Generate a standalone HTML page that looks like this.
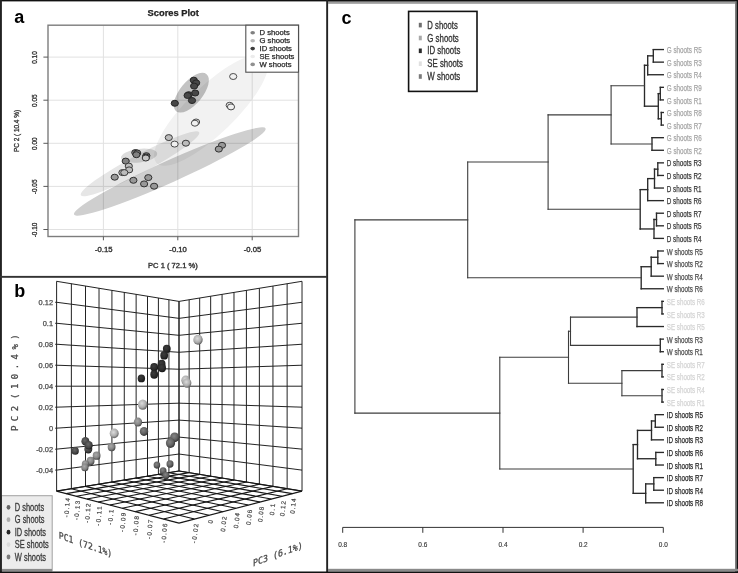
<!DOCTYPE html>
<html lang="en"><head><meta charset="utf-8"><title>Figure</title>
<style>
html,body{margin:0;padding:0;background:#fff;}
body{width:738px;height:573px;overflow:hidden;font-family:"Liberation Sans",sans-serif;}
svg{display:block;}
</style></head><body>
<svg width="738" height="573" viewBox="0 0 738 573">
<rect x="0" y="0" width="738" height="573" fill="#fff"/>
<defs><filter id="soft" x="-2%" y="-2%" width="104%" height="104%"><feGaussianBlur stdDeviation="0.3"/></filter></defs>
<g id="panelA" filter="url(#soft)">
<clipPath id="clipA"><rect x="48.0" y="25.2" width="250.5" height="211.3"/></clipPath>
<g clip-path="url(#clipA)">
<rect x="48.0" y="25.2" width="250.5" height="211.3" fill="#fff"/>
<line x1="103.4" y1="25.2" x2="103.4" y2="236.5" stroke="#e1e1e1" stroke-width="1"/>
<line x1="177.8" y1="25.2" x2="177.8" y2="236.5" stroke="#e1e1e1" stroke-width="1"/>
<line x1="252.2" y1="25.2" x2="252.2" y2="236.5" stroke="#e1e1e1" stroke-width="1"/>
<line x1="48.0" y1="57.1" x2="298.5" y2="57.1" stroke="#e1e1e1" stroke-width="1"/>
<line x1="48.0" y1="100.2" x2="298.5" y2="100.2" stroke="#e1e1e1" stroke-width="1"/>
<line x1="48.0" y1="143.3" x2="298.5" y2="143.3" stroke="#e1e1e1" stroke-width="1"/>
<line x1="48.0" y1="186.4" x2="298.5" y2="186.4" stroke="#e1e1e1" stroke-width="1"/>
<line x1="48.0" y1="229.5" x2="298.5" y2="229.5" stroke="#e1e1e1" stroke-width="1"/>
<ellipse cx="211.2" cy="110.2" rx="76" ry="23.8" transform="rotate(-44.0 211.2 110.2)" fill="#f2f2f2" style="mix-blend-mode:multiply"/>
<ellipse cx="140" cy="163.8" rx="67" ry="9.1" transform="rotate(-28.0 140 163.8)" fill="#e6e6e6" style="mix-blend-mode:multiply"/>
<ellipse cx="169.8" cy="171.5" rx="105" ry="10.9" transform="rotate(-24.2 169.8 171.5)" fill="#cfcfcf" style="mix-blend-mode:multiply"/>
<ellipse cx="139.1" cy="155.7" rx="18.2" ry="6.8" transform="rotate(-7 139.1 155.7)" fill="#dcdcdc" style="mix-blend-mode:multiply"/>
<ellipse cx="191.3" cy="92.7" rx="24" ry="11.3" transform="rotate(-50.5 191.3 92.7)" fill="#c3c3c3" style="mix-blend-mode:multiply"/>
</g>
<ellipse cx="222.0" cy="145.3" rx="3.6" ry="3.0" fill="#989898" stroke="#303030" stroke-width="1.0"/>
<ellipse cx="218.8" cy="149.1" rx="3.6" ry="3.0" fill="#989898" stroke="#303030" stroke-width="1.0"/>
<ellipse cx="133.4" cy="180.3" rx="3.6" ry="3.0" fill="#989898" stroke="#303030" stroke-width="1.0"/>
<ellipse cx="148.3" cy="177.6" rx="3.6" ry="3.0" fill="#989898" stroke="#303030" stroke-width="1.0"/>
<ellipse cx="144.1" cy="183.9" rx="3.6" ry="3.0" fill="#989898" stroke="#303030" stroke-width="1.0"/>
<ellipse cx="154.1" cy="186.2" rx="3.6" ry="3.0" fill="#989898" stroke="#303030" stroke-width="1.0"/>
<ellipse cx="114.7" cy="177.2" rx="3.6" ry="3.0" fill="#989898" stroke="#303030" stroke-width="1.0"/>
<ellipse cx="135.3" cy="152.6" rx="3.6" ry="3.0" fill="#828282" stroke="#2a2a2a" stroke-width="1.0"/>
<ellipse cx="137.2" cy="153.0" rx="3.6" ry="3.0" fill="#828282" stroke="#2a2a2a" stroke-width="1.0"/>
<ellipse cx="136.4" cy="154.7" rx="3.6" ry="3.0" fill="#828282" stroke="#2a2a2a" stroke-width="1.0"/>
<ellipse cx="146.4" cy="155.7" rx="3.6" ry="3.0" fill="#828282" stroke="#2a2a2a" stroke-width="1.0"/>
<ellipse cx="146.0" cy="157.1" rx="3.6" ry="3.0" fill="#828282" stroke="#2a2a2a" stroke-width="1.0"/>
<ellipse cx="125.7" cy="161.1" rx="3.6" ry="3.0" fill="#828282" stroke="#2a2a2a" stroke-width="1.0"/>
<ellipse cx="168.8" cy="137.6" rx="3.6" ry="3.0" fill="#bcbcbc" stroke="#3a3a3a" stroke-width="1.0"/>
<ellipse cx="185.9" cy="143.2" rx="3.6" ry="3.0" fill="#bcbcbc" stroke="#3a3a3a" stroke-width="1.0"/>
<ellipse cx="128.8" cy="166.1" rx="3.6" ry="3.0" fill="#bcbcbc" stroke="#3a3a3a" stroke-width="1.0"/>
<ellipse cx="129.1" cy="169.9" rx="3.6" ry="3.0" fill="#bcbcbc" stroke="#3a3a3a" stroke-width="1.0"/>
<ellipse cx="122.4" cy="172.6" rx="3.6" ry="3.0" fill="#bcbcbc" stroke="#3a3a3a" stroke-width="1.0"/>
<ellipse cx="124.3" cy="172.6" rx="3.6" ry="3.0" fill="#bcbcbc" stroke="#3a3a3a" stroke-width="1.0"/>
<ellipse cx="145.8" cy="158.0" rx="3.6" ry="3.0" fill="#c4c4c4" stroke="#333" stroke-width="1.0"/>
<ellipse cx="233.2" cy="76.5" rx="3.6" ry="3.0" fill="#f0f0f0" stroke="#4a4a4a" stroke-width="1.0"/>
<ellipse cx="229.7" cy="105.3" rx="3.6" ry="3.0" fill="#f0f0f0" stroke="#4a4a4a" stroke-width="1.0"/>
<ellipse cx="231.0" cy="106.9" rx="3.6" ry="3.0" fill="#f0f0f0" stroke="#4a4a4a" stroke-width="1.0"/>
<ellipse cx="196.1" cy="122.0" rx="3.6" ry="3.0" fill="#f0f0f0" stroke="#4a4a4a" stroke-width="1.0"/>
<ellipse cx="194.9" cy="123.2" rx="3.6" ry="3.0" fill="#f0f0f0" stroke="#4a4a4a" stroke-width="1.0"/>
<ellipse cx="174.6" cy="144.1" rx="3.6" ry="3.0" fill="#f0f0f0" stroke="#4a4a4a" stroke-width="1.0"/>
<ellipse cx="193.8" cy="80.2" rx="3.6" ry="3.0" fill="#464646" stroke="#262626" stroke-width="1.0"/>
<ellipse cx="196.2" cy="82.9" rx="3.6" ry="3.0" fill="#464646" stroke="#262626" stroke-width="1.0"/>
<ellipse cx="194.1" cy="86.1" rx="3.6" ry="3.0" fill="#464646" stroke="#262626" stroke-width="1.0"/>
<ellipse cx="195.2" cy="93.0" rx="3.6" ry="3.0" fill="#464646" stroke="#262626" stroke-width="1.0"/>
<ellipse cx="188.7" cy="94.7" rx="3.6" ry="3.0" fill="#464646" stroke="#262626" stroke-width="1.0"/>
<ellipse cx="187.6" cy="95.5" rx="3.6" ry="3.0" fill="#464646" stroke="#262626" stroke-width="1.0"/>
<ellipse cx="192.0" cy="100.5" rx="3.6" ry="3.0" fill="#464646" stroke="#262626" stroke-width="1.0"/>
<ellipse cx="174.8" cy="103.3" rx="3.6" ry="3.0" fill="#464646" stroke="#262626" stroke-width="1.0"/>
<rect x="48.0" y="25.2" width="250.5" height="211.3" fill="none" stroke="#7d7d7d" stroke-width="1.4"/>
<line x1="103.4" y1="236.5" x2="103.4" y2="240.3" stroke="#5a5a5a" stroke-width="1"/>
<text x="103.70" y="252.30" font-size="6.5" fill="#333" text-anchor="middle" font-weight="normal" font-family='"Liberation Sans", sans-serif' textLength="17.48" lengthAdjust="spacingAndGlyphs" stroke="#333" stroke-width="0.33" >-0.15</text>
<line x1="177.8" y1="236.5" x2="177.8" y2="240.3" stroke="#5a5a5a" stroke-width="1"/>
<text x="178.10" y="252.30" font-size="6.5" fill="#333" text-anchor="middle" font-weight="normal" font-family='"Liberation Sans", sans-serif' textLength="17.48" lengthAdjust="spacingAndGlyphs" stroke="#333" stroke-width="0.33" >-0.10</text>
<line x1="252.2" y1="236.5" x2="252.2" y2="240.3" stroke="#5a5a5a" stroke-width="1"/>
<text x="252.50" y="252.30" font-size="6.5" fill="#333" text-anchor="middle" font-weight="normal" font-family='"Liberation Sans", sans-serif' textLength="17.48" lengthAdjust="spacingAndGlyphs" stroke="#333" stroke-width="0.33" >-0.05</text>
<line x1="43.4" y1="57.1" x2="48.0" y2="57.1" stroke="#5a5a5a" stroke-width="1"/>
<text x="37.40" y="57.50" font-size="7.8" fill="#333" text-anchor="middle" font-weight="normal" font-family='"Liberation Sans", sans-serif' textLength="12.60" lengthAdjust="spacingAndGlyphs" transform="rotate(-90 37.40 57.50)" stroke="#333" stroke-width="0.33" >0.10</text>
<line x1="43.4" y1="100.2" x2="48.0" y2="100.2" stroke="#5a5a5a" stroke-width="1"/>
<text x="37.40" y="100.60" font-size="7.8" fill="#333" text-anchor="middle" font-weight="normal" font-family='"Liberation Sans", sans-serif' textLength="12.60" lengthAdjust="spacingAndGlyphs" transform="rotate(-90 37.40 100.60)" stroke="#333" stroke-width="0.33" >0.05</text>
<line x1="43.4" y1="143.3" x2="48.0" y2="143.3" stroke="#5a5a5a" stroke-width="1"/>
<text x="37.40" y="143.70" font-size="7.8" fill="#333" text-anchor="middle" font-weight="normal" font-family='"Liberation Sans", sans-serif' textLength="12.60" lengthAdjust="spacingAndGlyphs" transform="rotate(-90 37.40 143.70)" stroke="#333" stroke-width="0.33" >0.00</text>
<line x1="43.4" y1="186.4" x2="48.0" y2="186.4" stroke="#5a5a5a" stroke-width="1"/>
<text x="37.40" y="186.80" font-size="7.8" fill="#333" text-anchor="middle" font-weight="normal" font-family='"Liberation Sans", sans-serif' textLength="14.75" lengthAdjust="spacingAndGlyphs" transform="rotate(-90 37.40 186.80)" stroke="#333" stroke-width="0.33" >-0.05</text>
<line x1="43.4" y1="229.5" x2="48.0" y2="229.5" stroke="#5a5a5a" stroke-width="1"/>
<text x="37.40" y="229.90" font-size="7.8" fill="#333" text-anchor="middle" font-weight="normal" font-family='"Liberation Sans", sans-serif' textLength="14.75" lengthAdjust="spacingAndGlyphs" transform="rotate(-90 37.40 229.90)" stroke="#333" stroke-width="0.33" >-0.10</text>
<text x="173.20" y="16.10" font-size="8.6" fill="#222" text-anchor="middle" font-weight="bold" font-family='"Liberation Sans", sans-serif' textLength="51.40" lengthAdjust="spacingAndGlyphs" stroke="#222" stroke-width="0.25" >Scores Plot</text>
<text x="172.90" y="267.60" font-size="6.5" fill="#333" text-anchor="middle" font-weight="normal" font-family='"Liberation Sans", sans-serif' textLength="49.80" lengthAdjust="spacingAndGlyphs" stroke="#333" stroke-width="0.33" >PC 1 ( 72.1 %)</text>
<text x="19.00" y="131.00" font-size="7.8" fill="#333" text-anchor="middle" font-weight="normal" font-family='"Liberation Sans", sans-serif' textLength="42.20" lengthAdjust="spacingAndGlyphs" transform="rotate(-90 19.00 131.00)" stroke="#333" stroke-width="0.33" >PC 2 ( 10.4 %)</text>
<rect x="245.8" y="25.2" width="52.69999999999999" height="47.0" fill="#fff" stroke="#505050" stroke-width="1.1"/>
<ellipse cx="252.7" cy="32.8" rx="2.3" ry="1.8" fill="#808080"/>
<text x="259.50" y="35.20" font-size="6.5" fill="#2e2e2e" text-anchor="start" font-weight="normal" font-family='"Liberation Sans", sans-serif' textLength="30.27" lengthAdjust="spacingAndGlyphs" stroke="#2e2e2e" stroke-width="0.25" >D shoots</text>
<ellipse cx="252.7" cy="40.7" rx="2.3" ry="1.8" fill="#b8b8b8"/>
<text x="259.50" y="43.10" font-size="6.5" fill="#2e2e2e" text-anchor="start" font-weight="normal" font-family='"Liberation Sans", sans-serif' textLength="30.69" lengthAdjust="spacingAndGlyphs" stroke="#2e2e2e" stroke-width="0.25" >G shoots</text>
<ellipse cx="252.7" cy="48.6" rx="2.3" ry="1.8" fill="#3c3c3c"/>
<text x="259.50" y="51.00" font-size="6.5" fill="#2e2e2e" text-anchor="start" font-weight="normal" font-family='"Liberation Sans", sans-serif' textLength="32.40" lengthAdjust="spacingAndGlyphs" stroke="#2e2e2e" stroke-width="0.25" >ID shoots</text>
<ellipse cx="252.7" cy="56.5" rx="2.3" ry="1.8" fill="#ececec"/>
<text x="259.50" y="58.90" font-size="6.5" fill="#2e2e2e" text-anchor="start" font-weight="normal" font-family='"Liberation Sans", sans-serif' textLength="34.96" lengthAdjust="spacingAndGlyphs" stroke="#2e2e2e" stroke-width="0.25" >SE shoots</text>
<ellipse cx="252.7" cy="64.4" rx="2.3" ry="1.8" fill="#909090"/>
<text x="259.50" y="66.80" font-size="6.5" fill="#2e2e2e" text-anchor="start" font-weight="normal" font-family='"Liberation Sans", sans-serif' textLength="31.97" lengthAdjust="spacingAndGlyphs" stroke="#2e2e2e" stroke-width="0.25" >W shoots</text>
</g>
<g id="panelB" filter="url(#soft)">
<line x1="56.60" y1="281.30" x2="56.60" y2="491.10" stroke="#1e1e1e" stroke-width="0.98"/>
<line x1="56.60" y1="281.30" x2="179.00" y2="301.40" stroke="#1e1e1e" stroke-width="0.98"/>
<line x1="71.39" y1="283.73" x2="71.39" y2="488.67" stroke="#1e1e1e" stroke-width="0.98"/>
<line x1="56.60" y1="302.28" x2="179.00" y2="318.36" stroke="#1e1e1e" stroke-width="0.98"/>
<line x1="85.51" y1="286.05" x2="85.51" y2="486.35" stroke="#1e1e1e" stroke-width="0.98"/>
<line x1="56.60" y1="323.26" x2="179.00" y2="335.32" stroke="#1e1e1e" stroke-width="0.98"/>
<line x1="99.01" y1="288.26" x2="99.01" y2="484.14" stroke="#1e1e1e" stroke-width="0.98"/>
<line x1="56.60" y1="344.24" x2="179.00" y2="352.28" stroke="#1e1e1e" stroke-width="0.98"/>
<line x1="111.92" y1="290.38" x2="111.92" y2="482.02" stroke="#1e1e1e" stroke-width="0.98"/>
<line x1="56.60" y1="365.22" x2="179.00" y2="369.24" stroke="#1e1e1e" stroke-width="0.98"/>
<line x1="124.28" y1="292.41" x2="124.28" y2="479.99" stroke="#1e1e1e" stroke-width="0.98"/>
<line x1="56.60" y1="386.20" x2="179.00" y2="386.20" stroke="#1e1e1e" stroke-width="0.98"/>
<line x1="136.14" y1="294.36" x2="136.14" y2="478.04" stroke="#1e1e1e" stroke-width="0.98"/>
<line x1="56.60" y1="407.18" x2="179.00" y2="403.16" stroke="#1e1e1e" stroke-width="0.98"/>
<line x1="147.51" y1="296.23" x2="147.51" y2="476.17" stroke="#1e1e1e" stroke-width="0.98"/>
<line x1="56.60" y1="428.16" x2="179.00" y2="420.12" stroke="#1e1e1e" stroke-width="0.98"/>
<line x1="158.42" y1="298.02" x2="158.42" y2="474.38" stroke="#1e1e1e" stroke-width="0.98"/>
<line x1="56.60" y1="449.14" x2="179.00" y2="437.08" stroke="#1e1e1e" stroke-width="0.98"/>
<line x1="168.91" y1="299.74" x2="168.91" y2="472.66" stroke="#1e1e1e" stroke-width="0.98"/>
<line x1="56.60" y1="470.12" x2="179.00" y2="454.04" stroke="#1e1e1e" stroke-width="0.98"/>
<line x1="179.00" y1="301.40" x2="179.00" y2="471.00" stroke="#1e1e1e" stroke-width="0.98"/>
<line x1="56.60" y1="491.10" x2="179.00" y2="471.00" stroke="#1e1e1e" stroke-width="0.98"/>
<line x1="179.00" y1="301.40" x2="179.00" y2="471.00" stroke="#1e1e1e" stroke-width="0.98"/>
<line x1="179.00" y1="301.40" x2="302.00" y2="281.30" stroke="#1e1e1e" stroke-width="0.98"/>
<line x1="189.14" y1="299.74" x2="189.14" y2="472.66" stroke="#1e1e1e" stroke-width="0.98"/>
<line x1="179.00" y1="318.36" x2="302.00" y2="302.28" stroke="#1e1e1e" stroke-width="0.98"/>
<line x1="199.68" y1="298.02" x2="199.68" y2="474.38" stroke="#1e1e1e" stroke-width="0.98"/>
<line x1="179.00" y1="335.32" x2="302.00" y2="323.26" stroke="#1e1e1e" stroke-width="0.98"/>
<line x1="210.65" y1="296.23" x2="210.65" y2="476.17" stroke="#1e1e1e" stroke-width="0.98"/>
<line x1="179.00" y1="352.28" x2="302.00" y2="344.24" stroke="#1e1e1e" stroke-width="0.98"/>
<line x1="222.07" y1="294.36" x2="222.07" y2="478.04" stroke="#1e1e1e" stroke-width="0.98"/>
<line x1="179.00" y1="369.24" x2="302.00" y2="365.22" stroke="#1e1e1e" stroke-width="0.98"/>
<line x1="233.98" y1="292.41" x2="233.98" y2="479.99" stroke="#1e1e1e" stroke-width="0.98"/>
<line x1="179.00" y1="386.20" x2="302.00" y2="386.20" stroke="#1e1e1e" stroke-width="0.98"/>
<line x1="246.41" y1="290.38" x2="246.41" y2="482.02" stroke="#1e1e1e" stroke-width="0.98"/>
<line x1="179.00" y1="403.16" x2="302.00" y2="407.18" stroke="#1e1e1e" stroke-width="0.98"/>
<line x1="259.38" y1="288.26" x2="259.38" y2="484.14" stroke="#1e1e1e" stroke-width="0.98"/>
<line x1="179.00" y1="420.12" x2="302.00" y2="428.16" stroke="#1e1e1e" stroke-width="0.98"/>
<line x1="272.95" y1="286.05" x2="272.95" y2="486.35" stroke="#1e1e1e" stroke-width="0.98"/>
<line x1="179.00" y1="437.08" x2="302.00" y2="449.14" stroke="#1e1e1e" stroke-width="0.98"/>
<line x1="287.14" y1="283.73" x2="287.14" y2="488.67" stroke="#1e1e1e" stroke-width="0.98"/>
<line x1="179.00" y1="454.04" x2="302.00" y2="470.12" stroke="#1e1e1e" stroke-width="0.98"/>
<line x1="302.00" y1="281.30" x2="302.00" y2="491.10" stroke="#1e1e1e" stroke-width="0.98"/>
<line x1="179.00" y1="471.00" x2="302.00" y2="491.10" stroke="#1e1e1e" stroke-width="0.98"/>
<line x1="179.00" y1="471.00" x2="56.60" y2="491.10" stroke="#141414" stroke-width="1.1"/>
<line x1="179.00" y1="471.00" x2="302.00" y2="491.10" stroke="#141414" stroke-width="1.1"/>
<line x1="189.18" y1="472.66" x2="66.24" y2="493.62" stroke="#141414" stroke-width="1.1"/>
<line x1="168.82" y1="472.67" x2="292.27" y2="493.63" stroke="#141414" stroke-width="1.1"/>
<line x1="199.76" y1="474.39" x2="76.35" y2="496.26" stroke="#141414" stroke-width="1.1"/>
<line x1="158.26" y1="474.41" x2="282.07" y2="496.29" stroke="#141414" stroke-width="1.1"/>
<line x1="210.76" y1="476.19" x2="86.96" y2="499.04" stroke="#141414" stroke-width="1.1"/>
<line x1="147.28" y1="476.21" x2="271.38" y2="499.07" stroke="#141414" stroke-width="1.1"/>
<line x1="222.20" y1="478.06" x2="98.11" y2="501.95" stroke="#141414" stroke-width="1.1"/>
<line x1="135.87" y1="478.08" x2="260.15" y2="501.99" stroke="#141414" stroke-width="1.1"/>
<line x1="234.12" y1="480.01" x2="109.84" y2="505.02" stroke="#141414" stroke-width="1.1"/>
<line x1="124.00" y1="480.03" x2="248.35" y2="505.06" stroke="#141414" stroke-width="1.1"/>
<line x1="246.55" y1="482.04" x2="122.19" y2="508.25" stroke="#141414" stroke-width="1.1"/>
<line x1="111.63" y1="482.06" x2="235.94" y2="508.29" stroke="#141414" stroke-width="1.1"/>
<line x1="259.51" y1="484.16" x2="135.22" y2="511.66" stroke="#141414" stroke-width="1.1"/>
<line x1="98.75" y1="484.18" x2="222.85" y2="511.69" stroke="#141414" stroke-width="1.1"/>
<line x1="273.05" y1="486.37" x2="148.99" y2="515.25" stroke="#141414" stroke-width="1.1"/>
<line x1="85.30" y1="486.39" x2="209.04" y2="515.28" stroke="#141414" stroke-width="1.1"/>
<line x1="287.20" y1="488.68" x2="163.56" y2="519.06" stroke="#141414" stroke-width="1.1"/>
<line x1="71.27" y1="488.69" x2="194.45" y2="519.08" stroke="#141414" stroke-width="1.1"/>
<line x1="302.00" y1="491.10" x2="179.00" y2="523.10" stroke="#141414" stroke-width="1.1"/>
<line x1="56.60" y1="491.10" x2="179.00" y2="523.10" stroke="#141414" stroke-width="1.1"/>
<defs>
<radialGradient id="gID" cx="0.42" cy="0.38" r="0.66"><stop offset="0" stop-color="#3c3c3c"/><stop offset="0.6" stop-color="#2a2a2a"/><stop offset="1" stop-color="#141414"/></radialGradient>
<radialGradient id="gSE" cx="0.42" cy="0.38" r="0.66"><stop offset="0" stop-color="#dcdcdc"/><stop offset="0.6" stop-color="#adadad"/><stop offset="1" stop-color="#555"/></radialGradient>
<radialGradient id="gG" cx="0.42" cy="0.38" r="0.66"><stop offset="0" stop-color="#aaa"/><stop offset="0.6" stop-color="#848484"/><stop offset="1" stop-color="#3c3c3c"/></radialGradient>
<radialGradient id="gD" cx="0.42" cy="0.38" r="0.66"><stop offset="0" stop-color="#686868"/><stop offset="0.6" stop-color="#464646"/><stop offset="1" stop-color="#1c1c1c"/></radialGradient>
<radialGradient id="gW" cx="0.42" cy="0.38" r="0.66"><stop offset="0" stop-color="#858585"/><stop offset="0.6" stop-color="#606060"/><stop offset="1" stop-color="#2a2a2a"/></radialGradient>
</defs>
<ellipse cx="144" cy="431.4" rx="4.2" ry="4.49" fill="url(#gW)"/>
<ellipse cx="174.7" cy="437.3" rx="4.6" ry="4.92" fill="url(#gW)"/>
<ellipse cx="170.5" cy="443.1" rx="4.6" ry="4.92" fill="url(#gW)"/>
<ellipse cx="170" cy="464" rx="3.5" ry="3.75" fill="url(#gW)"/>
<ellipse cx="156.9" cy="465.1" rx="3.3" ry="3.53" fill="url(#gW)"/>
<ellipse cx="163.1" cy="470.8" rx="3.4" ry="3.64" fill="url(#gW)"/>
<ellipse cx="166.1" cy="475.4" rx="3.4" ry="3.64" fill="url(#gW)"/>
<ellipse cx="138" cy="422.1" rx="4.2" ry="4.49" fill="url(#gG)"/>
<ellipse cx="111.6" cy="447" rx="3.9" ry="4.17" fill="url(#gG)"/>
<ellipse cx="96.6" cy="455.7" rx="3.9" ry="4.17" fill="url(#gG)"/>
<ellipse cx="90.6" cy="460.9" rx="3.9" ry="4.17" fill="url(#gG)"/>
<ellipse cx="85.4" cy="464" rx="3.6" ry="3.85" fill="url(#gG)"/>
<ellipse cx="84.9" cy="467.4" rx="3.6" ry="3.85" fill="url(#gG)"/>
<ellipse cx="75.2" cy="450.9" rx="3.6" ry="3.85" fill="url(#gD)"/>
<ellipse cx="85.4" cy="441.3" rx="4.0" ry="4.28" fill="url(#gD)"/>
<ellipse cx="88.3" cy="449.1" rx="4.0" ry="4.28" fill="url(#gD)"/>
<ellipse cx="88.8" cy="445.2" rx="4.0" ry="4.28" fill="url(#gD)"/>
<ellipse cx="198" cy="339.7" rx="4.7" ry="5.03" fill="url(#gSE)"/>
<ellipse cx="185.7" cy="380.3" rx="4.4" ry="4.71" fill="url(#gSE)"/>
<ellipse cx="187" cy="383.1" rx="4.4" ry="4.71" fill="url(#gSE)"/>
<ellipse cx="142.7" cy="404.6" rx="4.8" ry="5.14" fill="url(#gSE)"/>
<ellipse cx="114.2" cy="433.4" rx="4.5" ry="4.82" fill="url(#gSE)"/>
<ellipse cx="166.8" cy="348.8" rx="3.9" ry="4.17" fill="url(#gID)"/>
<ellipse cx="164.2" cy="355.4" rx="3.9" ry="4.17" fill="url(#gID)"/>
<ellipse cx="161.6" cy="364.0" rx="3.9" ry="4.17" fill="url(#gID)"/>
<ellipse cx="162.1" cy="368" rx="3.9" ry="4.17" fill="url(#gID)"/>
<ellipse cx="154.2" cy="367.2" rx="3.9" ry="4.17" fill="url(#gID)"/>
<ellipse cx="154.2" cy="374.5" rx="3.9" ry="4.17" fill="url(#gID)"/>
<ellipse cx="141.4" cy="378.4" rx="3.7" ry="3.96" fill="url(#gID)"/>
<text x="53.00" y="305.30" font-size="7.4" fill="#4a4a4a" text-anchor="end" font-weight="normal" font-family='"Liberation Sans", sans-serif' stroke="#4a4a4a" stroke-width="0.25" >0.12</text>
<line x1="55.0" y1="302.3" x2="56.6" y2="302.3" stroke="#1e1e1e" stroke-width="0.8"/>
<text x="53.00" y="326.28" font-size="7.4" fill="#4a4a4a" text-anchor="end" font-weight="normal" font-family='"Liberation Sans", sans-serif' stroke="#4a4a4a" stroke-width="0.25" >0.1</text>
<line x1="55.0" y1="323.3" x2="56.6" y2="323.3" stroke="#1e1e1e" stroke-width="0.8"/>
<text x="53.00" y="347.26" font-size="7.4" fill="#4a4a4a" text-anchor="end" font-weight="normal" font-family='"Liberation Sans", sans-serif' stroke="#4a4a4a" stroke-width="0.25" >0.08</text>
<line x1="55.0" y1="344.3" x2="56.6" y2="344.3" stroke="#1e1e1e" stroke-width="0.8"/>
<text x="53.00" y="368.24" font-size="7.4" fill="#4a4a4a" text-anchor="end" font-weight="normal" font-family='"Liberation Sans", sans-serif' stroke="#4a4a4a" stroke-width="0.25" >0.06</text>
<line x1="55.0" y1="365.2" x2="56.6" y2="365.2" stroke="#1e1e1e" stroke-width="0.8"/>
<text x="53.00" y="389.22" font-size="7.4" fill="#4a4a4a" text-anchor="end" font-weight="normal" font-family='"Liberation Sans", sans-serif' stroke="#4a4a4a" stroke-width="0.25" >0.04</text>
<line x1="55.0" y1="386.2" x2="56.6" y2="386.2" stroke="#1e1e1e" stroke-width="0.8"/>
<text x="53.00" y="410.20" font-size="7.4" fill="#4a4a4a" text-anchor="end" font-weight="normal" font-family='"Liberation Sans", sans-serif' stroke="#4a4a4a" stroke-width="0.25" >0.02</text>
<line x1="55.0" y1="407.2" x2="56.6" y2="407.2" stroke="#1e1e1e" stroke-width="0.8"/>
<text x="53.00" y="431.18" font-size="7.4" fill="#4a4a4a" text-anchor="end" font-weight="normal" font-family='"Liberation Sans", sans-serif' stroke="#4a4a4a" stroke-width="0.25" >0</text>
<line x1="55.0" y1="428.2" x2="56.6" y2="428.2" stroke="#1e1e1e" stroke-width="0.8"/>
<text x="53.00" y="452.16" font-size="7.4" fill="#4a4a4a" text-anchor="end" font-weight="normal" font-family='"Liberation Sans", sans-serif' stroke="#4a4a4a" stroke-width="0.25" >-0.02</text>
<line x1="55.0" y1="449.2" x2="56.6" y2="449.2" stroke="#1e1e1e" stroke-width="0.8"/>
<text x="53.00" y="473.14" font-size="7.4" fill="#4a4a4a" text-anchor="end" font-weight="normal" font-family='"Liberation Sans", sans-serif' stroke="#4a4a4a" stroke-width="0.25" >-0.04</text>
<line x1="55.0" y1="470.1" x2="56.6" y2="470.1" stroke="#1e1e1e" stroke-width="0.8"/>
<text x="18.40" y="431.00" font-size="9.0" fill="#444" text-anchor="start" font-weight="normal" font-family='"DejaVu Sans Mono", "Liberation Mono", monospace' transform="rotate(-90 18.40 431.00)" stroke="#444" stroke-width="0.25" letter-spacing="4.45" word-spacing="-7.4">PC2 (10.4%)</text>
<text x="69.94" y="498.22" font-size="6.4" fill="#4a4a4a" text-anchor="end" font-weight="normal" font-family='"Liberation Sans", sans-serif' textLength="19.40" lengthAdjust="spacing" transform="rotate(-85.5 69.94 498.22)" stroke="#4a4a4a" stroke-width="0.2" >-0.14</text>
<text x="80.05" y="500.86" font-size="6.4" fill="#4a4a4a" text-anchor="end" font-weight="normal" font-family='"Liberation Sans", sans-serif' textLength="19.40" lengthAdjust="spacing" transform="rotate(-85.5 80.05 500.86)" stroke="#4a4a4a" stroke-width="0.2" >-0.13</text>
<text x="90.66" y="503.64" font-size="6.4" fill="#4a4a4a" text-anchor="end" font-weight="normal" font-family='"Liberation Sans", sans-serif' textLength="19.40" lengthAdjust="spacing" transform="rotate(-85.5 90.66 503.64)" stroke="#4a4a4a" stroke-width="0.2" >-0.12</text>
<text x="101.81" y="506.55" font-size="6.4" fill="#4a4a4a" text-anchor="end" font-weight="normal" font-family='"Liberation Sans", sans-serif' textLength="19.40" lengthAdjust="spacing" transform="rotate(-85.5 101.81 506.55)" stroke="#4a4a4a" stroke-width="0.2" >-0.11</text>
<text x="113.54" y="509.62" font-size="6.4" fill="#4a4a4a" text-anchor="end" font-weight="normal" font-family='"Liberation Sans", sans-serif' textLength="15.40" lengthAdjust="spacing" transform="rotate(-85.5 113.54 509.62)" stroke="#4a4a4a" stroke-width="0.2" >-0.1</text>
<text x="125.89" y="512.85" font-size="6.4" fill="#4a4a4a" text-anchor="end" font-weight="normal" font-family='"Liberation Sans", sans-serif' textLength="19.40" lengthAdjust="spacing" transform="rotate(-85.5 125.89 512.85)" stroke="#4a4a4a" stroke-width="0.2" >-0.09</text>
<text x="138.92" y="516.26" font-size="6.4" fill="#4a4a4a" text-anchor="end" font-weight="normal" font-family='"Liberation Sans", sans-serif' textLength="19.40" lengthAdjust="spacing" transform="rotate(-85.5 138.92 516.26)" stroke="#4a4a4a" stroke-width="0.2" >-0.08</text>
<text x="152.69" y="519.85" font-size="6.4" fill="#4a4a4a" text-anchor="end" font-weight="normal" font-family='"Liberation Sans", sans-serif' textLength="19.40" lengthAdjust="spacing" transform="rotate(-85.5 152.69 519.85)" stroke="#4a4a4a" stroke-width="0.2" >-0.07</text>
<text x="167.26" y="523.66" font-size="6.4" fill="#4a4a4a" text-anchor="end" font-weight="normal" font-family='"Liberation Sans", sans-serif' textLength="19.40" lengthAdjust="spacing" transform="rotate(-85.5 167.26 523.66)" stroke="#4a4a4a" stroke-width="0.2" >-0.06</text>
<text x="198.25" y="524.08" font-size="6.4" fill="#4a4a4a" text-anchor="end" font-weight="normal" font-family='"Liberation Sans", sans-serif' textLength="19.40" lengthAdjust="spacing" transform="rotate(-84 198.25 524.08)" stroke="#4a4a4a" stroke-width="0.2" >-0.02</text>
<text x="212.84" y="520.28" font-size="6.4" fill="#4a4a4a" text-anchor="end" font-weight="normal" font-family='"Liberation Sans", sans-serif' transform="rotate(-84 212.84 520.28)" stroke="#4a4a4a" stroke-width="0.2" >0</text>
<text x="226.65" y="516.69" font-size="6.4" fill="#4a4a4a" text-anchor="end" font-weight="normal" font-family='"Liberation Sans", sans-serif' textLength="15.40" lengthAdjust="spacing" transform="rotate(-84 226.65 516.69)" stroke="#4a4a4a" stroke-width="0.2" >0.02</text>
<text x="239.74" y="513.29" font-size="6.4" fill="#4a4a4a" text-anchor="end" font-weight="normal" font-family='"Liberation Sans", sans-serif' textLength="15.40" lengthAdjust="spacing" transform="rotate(-84 239.74 513.29)" stroke="#4a4a4a" stroke-width="0.2" >0.04</text>
<text x="252.15" y="510.06" font-size="6.4" fill="#4a4a4a" text-anchor="end" font-weight="normal" font-family='"Liberation Sans", sans-serif' textLength="15.40" lengthAdjust="spacing" transform="rotate(-84 252.15 510.06)" stroke="#4a4a4a" stroke-width="0.2" >0.06</text>
<text x="263.95" y="506.99" font-size="6.4" fill="#4a4a4a" text-anchor="end" font-weight="normal" font-family='"Liberation Sans", sans-serif' textLength="15.40" lengthAdjust="spacing" transform="rotate(-84 263.95 506.99)" stroke="#4a4a4a" stroke-width="0.2" >0.08</text>
<text x="275.18" y="504.07" font-size="6.4" fill="#4a4a4a" text-anchor="end" font-weight="normal" font-family='"Liberation Sans", sans-serif' textLength="11.40" lengthAdjust="spacing" transform="rotate(-84 275.18 504.07)" stroke="#4a4a4a" stroke-width="0.2" >0.1</text>
<text x="285.87" y="501.29" font-size="6.4" fill="#4a4a4a" text-anchor="end" font-weight="normal" font-family='"Liberation Sans", sans-serif' textLength="15.40" lengthAdjust="spacing" transform="rotate(-84 285.87 501.29)" stroke="#4a4a4a" stroke-width="0.2" >0.12</text>
<text x="296.07" y="498.63" font-size="6.4" fill="#4a4a4a" text-anchor="end" font-weight="normal" font-family='"Liberation Sans", sans-serif' textLength="15.40" lengthAdjust="spacing" transform="rotate(-84 296.07 498.63)" stroke="#4a4a4a" stroke-width="0.2" >0.14</text>
<text x="0.00" y="0.00" font-size="9.3" fill="#444" text-anchor="start" font-weight="normal" font-family='"DejaVu Sans Mono", "Liberation Mono", monospace' textLength="53.40" lengthAdjust="spacingAndGlyphs" stroke="#444" stroke-width="0.25" transform="translate(58.8 538.3) skewY(19.5)">PC1 (72.1%)</text>
<text x="0.00" y="0.00" font-size="9.3" fill="#444" text-anchor="start" font-weight="normal" font-family='"DejaVu Sans Mono", "Liberation Mono", monospace' textLength="49.60" lengthAdjust="spacingAndGlyphs" stroke="#444" stroke-width="0.25" transform="translate(253.1 566.4) skewY(-20)">PC3 (6.1%)</text>
<rect x="1.5" y="495.7" width="50.7" height="75" fill="#ececec" stroke="#a2a2a2" stroke-width="1"/>
<rect x="2" y="568.9" width="50" height="2.4" fill="#8a8a8a"/>
<ellipse cx="8.5" cy="507.3" rx="1.9" ry="2.4" fill="#666"/>
<text x="14.80" y="511.00" font-size="10.4" fill="#3a3a3a" text-anchor="start" font-weight="normal" font-family='"Liberation Sans", sans-serif' textLength="29.30" lengthAdjust="spacingAndGlyphs" stroke="#3a3a3a" stroke-width="0.3" >D shoots</text>
<ellipse cx="8.5" cy="519.7" rx="1.9" ry="2.4" fill="#adadad"/>
<text x="14.80" y="523.43" font-size="10.4" fill="#3a3a3a" text-anchor="start" font-weight="normal" font-family='"Liberation Sans", sans-serif' textLength="29.70" lengthAdjust="spacingAndGlyphs" stroke="#3a3a3a" stroke-width="0.3" >G shoots</text>
<ellipse cx="8.5" cy="532.2" rx="1.9" ry="2.4" fill="#262626"/>
<text x="14.80" y="535.86" font-size="10.4" fill="#3a3a3a" text-anchor="start" font-weight="normal" font-family='"Liberation Sans", sans-serif' textLength="31.20" lengthAdjust="spacingAndGlyphs" stroke="#3a3a3a" stroke-width="0.3" >ID shoots</text>
<ellipse cx="8.5" cy="544.6" rx="1.9" ry="2.4" fill="#dadada"/>
<text x="14.80" y="548.29" font-size="10.4" fill="#3a3a3a" text-anchor="start" font-weight="normal" font-family='"Liberation Sans", sans-serif' textLength="33.90" lengthAdjust="spacingAndGlyphs" stroke="#3a3a3a" stroke-width="0.3" >SE shoots</text>
<ellipse cx="8.5" cy="557.0" rx="1.9" ry="2.4" fill="#7a7a7a"/>
<text x="14.80" y="560.72" font-size="10.4" fill="#3a3a3a" text-anchor="start" font-weight="normal" font-family='"Liberation Sans", sans-serif' textLength="31.20" lengthAdjust="spacingAndGlyphs" stroke="#3a3a3a" stroke-width="0.3" >W shoots</text>
</g>
<g id="panelC">
<rect x="408.6" y="11.4" width="68.4" height="80" fill="#fff" stroke="#111" stroke-width="1.6"/>
<rect x="418.8" y="22.8" width="3.0" height="4.6" fill="#6e6e6e"/>
<text x="427.30" y="28.70" font-size="10.3" fill="#333" text-anchor="start" font-weight="normal" font-family='"Liberation Sans", sans-serif' textLength="30.50" lengthAdjust="spacingAndGlyphs" stroke="#333" stroke-width="0.3" >D shoots</text>
<rect x="418.8" y="35.7" width="3.0" height="4.6" fill="#a8a8a8"/>
<text x="427.30" y="41.55" font-size="10.3" fill="#333" text-anchor="start" font-weight="normal" font-family='"Liberation Sans", sans-serif' textLength="31.50" lengthAdjust="spacingAndGlyphs" stroke="#333" stroke-width="0.3" >G shoots</text>
<rect x="418.8" y="48.5" width="3.0" height="4.6" fill="#2a2a2a"/>
<text x="427.30" y="54.40" font-size="10.3" fill="#333" text-anchor="start" font-weight="normal" font-family='"Liberation Sans", sans-serif' textLength="33.00" lengthAdjust="spacingAndGlyphs" stroke="#333" stroke-width="0.3" >ID shoots</text>
<rect x="418.8" y="61.4" width="3.0" height="4.6" fill="#e0e0e0"/>
<text x="427.30" y="67.25" font-size="10.3" fill="#333" text-anchor="start" font-weight="normal" font-family='"Liberation Sans", sans-serif' textLength="35.60" lengthAdjust="spacingAndGlyphs" stroke="#333" stroke-width="0.3" >SE shoots</text>
<rect x="418.8" y="74.2" width="3.0" height="4.6" fill="#7a7a7a"/>
<text x="427.30" y="80.10" font-size="10.3" fill="#333" text-anchor="start" font-weight="normal" font-family='"Liberation Sans", sans-serif' textLength="33.00" lengthAdjust="spacingAndGlyphs" stroke="#333" stroke-width="0.3" >W shoots</text>
<line x1="653.30" y1="49.55" x2="663.30" y2="49.55" stroke="#2a2a2a" stroke-width="1.35" stroke-linecap="square"/>
<line x1="653.30" y1="62.14" x2="663.30" y2="62.14" stroke="#2a2a2a" stroke-width="1.35" stroke-linecap="square"/>
<line x1="653.30" y1="49.55" x2="653.30" y2="62.14" stroke="#2a2a2a" stroke-width="1.35" stroke-linecap="square"/>
<line x1="647.70" y1="55.84" x2="653.30" y2="55.84" stroke="#2a2a2a" stroke-width="1.35" stroke-linecap="square"/>
<line x1="647.70" y1="74.73" x2="663.30" y2="74.73" stroke="#2a2a2a" stroke-width="1.35" stroke-linecap="square"/>
<line x1="647.70" y1="55.84" x2="647.70" y2="74.73" stroke="#2a2a2a" stroke-width="1.35" stroke-linecap="square"/>
<line x1="660.30" y1="87.32" x2="663.30" y2="87.32" stroke="#2a2a2a" stroke-width="1.35" stroke-linecap="square"/>
<line x1="660.30" y1="99.91" x2="663.30" y2="99.91" stroke="#2a2a2a" stroke-width="1.35" stroke-linecap="square"/>
<line x1="660.30" y1="87.32" x2="660.30" y2="99.91" stroke="#2a2a2a" stroke-width="1.35" stroke-linecap="square"/>
<line x1="661.30" y1="112.50" x2="663.30" y2="112.50" stroke="#2a2a2a" stroke-width="1.35" stroke-linecap="square"/>
<line x1="661.30" y1="125.09" x2="663.30" y2="125.09" stroke="#2a2a2a" stroke-width="1.35" stroke-linecap="square"/>
<line x1="661.30" y1="112.50" x2="661.30" y2="125.09" stroke="#2a2a2a" stroke-width="1.35" stroke-linecap="square"/>
<line x1="658.30" y1="93.61" x2="660.30" y2="93.61" stroke="#2a2a2a" stroke-width="1.35" stroke-linecap="square"/>
<line x1="658.30" y1="118.79" x2="661.30" y2="118.79" stroke="#2a2a2a" stroke-width="1.35" stroke-linecap="square"/>
<line x1="658.30" y1="93.61" x2="658.30" y2="118.79" stroke="#2a2a2a" stroke-width="1.35" stroke-linecap="square"/>
<line x1="644.50" y1="65.29" x2="647.70" y2="65.29" stroke="#2a2a2a" stroke-width="1.35" stroke-linecap="square"/>
<line x1="644.50" y1="106.20" x2="658.30" y2="106.20" stroke="#2a2a2a" stroke-width="1.35" stroke-linecap="square"/>
<line x1="644.50" y1="65.29" x2="644.50" y2="106.20" stroke="#2a2a2a" stroke-width="1.35" stroke-linecap="square"/>
<line x1="652.00" y1="137.68" x2="663.30" y2="137.68" stroke="#2a2a2a" stroke-width="1.35" stroke-linecap="square"/>
<line x1="652.00" y1="150.27" x2="663.30" y2="150.27" stroke="#2a2a2a" stroke-width="1.35" stroke-linecap="square"/>
<line x1="652.00" y1="137.68" x2="652.00" y2="150.27" stroke="#2a2a2a" stroke-width="1.35" stroke-linecap="square"/>
<line x1="611.10" y1="85.75" x2="644.50" y2="85.75" stroke="#3c3c3c" stroke-width="1.1" stroke-linecap="square"/>
<line x1="611.10" y1="143.97" x2="652.00" y2="143.97" stroke="#3c3c3c" stroke-width="1.1" stroke-linecap="square"/>
<line x1="611.10" y1="85.75" x2="611.10" y2="143.97" stroke="#3c3c3c" stroke-width="1.1" stroke-linecap="square"/>
<line x1="657.80" y1="162.86" x2="663.30" y2="162.86" stroke="#2a2a2a" stroke-width="1.35" stroke-linecap="square"/>
<line x1="657.80" y1="175.45" x2="663.30" y2="175.45" stroke="#2a2a2a" stroke-width="1.35" stroke-linecap="square"/>
<line x1="657.80" y1="162.86" x2="657.80" y2="175.45" stroke="#2a2a2a" stroke-width="1.35" stroke-linecap="square"/>
<line x1="654.50" y1="169.16" x2="657.80" y2="169.16" stroke="#2a2a2a" stroke-width="1.35" stroke-linecap="square"/>
<line x1="654.50" y1="188.04" x2="663.30" y2="188.04" stroke="#2a2a2a" stroke-width="1.35" stroke-linecap="square"/>
<line x1="654.50" y1="169.16" x2="654.50" y2="188.04" stroke="#2a2a2a" stroke-width="1.35" stroke-linecap="square"/>
<line x1="647.70" y1="178.60" x2="654.50" y2="178.60" stroke="#2a2a2a" stroke-width="1.35" stroke-linecap="square"/>
<line x1="647.70" y1="200.63" x2="663.30" y2="200.63" stroke="#2a2a2a" stroke-width="1.35" stroke-linecap="square"/>
<line x1="647.70" y1="178.60" x2="647.70" y2="200.63" stroke="#2a2a2a" stroke-width="1.35" stroke-linecap="square"/>
<line x1="656.50" y1="213.22" x2="663.30" y2="213.22" stroke="#2a2a2a" stroke-width="1.35" stroke-linecap="square"/>
<line x1="656.50" y1="225.81" x2="663.30" y2="225.81" stroke="#2a2a2a" stroke-width="1.35" stroke-linecap="square"/>
<line x1="656.50" y1="213.22" x2="656.50" y2="225.81" stroke="#2a2a2a" stroke-width="1.35" stroke-linecap="square"/>
<line x1="654.00" y1="219.51" x2="656.50" y2="219.51" stroke="#2a2a2a" stroke-width="1.35" stroke-linecap="square"/>
<line x1="654.00" y1="238.40" x2="663.30" y2="238.40" stroke="#2a2a2a" stroke-width="1.35" stroke-linecap="square"/>
<line x1="654.00" y1="219.51" x2="654.00" y2="238.40" stroke="#2a2a2a" stroke-width="1.35" stroke-linecap="square"/>
<line x1="640.20" y1="189.61" x2="647.70" y2="189.61" stroke="#2a2a2a" stroke-width="1.35" stroke-linecap="square"/>
<line x1="640.20" y1="228.96" x2="654.00" y2="228.96" stroke="#2a2a2a" stroke-width="1.35" stroke-linecap="square"/>
<line x1="640.20" y1="189.61" x2="640.20" y2="228.96" stroke="#2a2a2a" stroke-width="1.35" stroke-linecap="square"/>
<line x1="548.10" y1="114.86" x2="611.10" y2="114.86" stroke="#3c3c3c" stroke-width="1.1" stroke-linecap="square"/>
<line x1="548.10" y1="209.29" x2="640.20" y2="209.29" stroke="#3c3c3c" stroke-width="1.1" stroke-linecap="square"/>
<line x1="548.10" y1="114.86" x2="548.10" y2="209.29" stroke="#3c3c3c" stroke-width="1.1" stroke-linecap="square"/>
<line x1="657.80" y1="250.99" x2="663.30" y2="250.99" stroke="#2a2a2a" stroke-width="1.35" stroke-linecap="square"/>
<line x1="657.80" y1="263.58" x2="663.30" y2="263.58" stroke="#2a2a2a" stroke-width="1.35" stroke-linecap="square"/>
<line x1="657.80" y1="250.99" x2="657.80" y2="263.58" stroke="#2a2a2a" stroke-width="1.35" stroke-linecap="square"/>
<line x1="651.20" y1="257.28" x2="657.80" y2="257.28" stroke="#2a2a2a" stroke-width="1.35" stroke-linecap="square"/>
<line x1="651.20" y1="276.17" x2="663.30" y2="276.17" stroke="#2a2a2a" stroke-width="1.35" stroke-linecap="square"/>
<line x1="651.20" y1="257.28" x2="651.20" y2="276.17" stroke="#2a2a2a" stroke-width="1.35" stroke-linecap="square"/>
<line x1="641.20" y1="266.73" x2="651.20" y2="266.73" stroke="#2a2a2a" stroke-width="1.35" stroke-linecap="square"/>
<line x1="641.20" y1="288.76" x2="663.30" y2="288.76" stroke="#2a2a2a" stroke-width="1.35" stroke-linecap="square"/>
<line x1="641.20" y1="266.73" x2="641.20" y2="288.76" stroke="#2a2a2a" stroke-width="1.35" stroke-linecap="square"/>
<line x1="467.70" y1="162.07" x2="548.10" y2="162.07" stroke="#3c3c3c" stroke-width="1.1" stroke-linecap="square"/>
<line x1="467.70" y1="277.74" x2="641.20" y2="277.74" stroke="#3c3c3c" stroke-width="1.1" stroke-linecap="square"/>
<line x1="467.70" y1="162.07" x2="467.70" y2="277.74" stroke="#3c3c3c" stroke-width="1.1" stroke-linecap="square"/>
<line x1="662.00" y1="301.35" x2="663.30" y2="301.35" stroke="#2a2a2a" stroke-width="1.35" stroke-linecap="square"/>
<line x1="662.00" y1="313.94" x2="663.30" y2="313.94" stroke="#2a2a2a" stroke-width="1.35" stroke-linecap="square"/>
<line x1="662.00" y1="301.35" x2="662.00" y2="313.94" stroke="#2a2a2a" stroke-width="1.35" stroke-linecap="square"/>
<line x1="637.00" y1="307.64" x2="662.00" y2="307.64" stroke="#2a2a2a" stroke-width="1.35" stroke-linecap="square"/>
<line x1="637.00" y1="326.53" x2="663.30" y2="326.53" stroke="#2a2a2a" stroke-width="1.35" stroke-linecap="square"/>
<line x1="637.00" y1="307.64" x2="637.00" y2="326.53" stroke="#2a2a2a" stroke-width="1.35" stroke-linecap="square"/>
<line x1="660.30" y1="339.12" x2="663.30" y2="339.12" stroke="#2a2a2a" stroke-width="1.35" stroke-linecap="square"/>
<line x1="660.30" y1="351.71" x2="663.30" y2="351.71" stroke="#2a2a2a" stroke-width="1.35" stroke-linecap="square"/>
<line x1="660.30" y1="339.12" x2="660.30" y2="351.71" stroke="#2a2a2a" stroke-width="1.35" stroke-linecap="square"/>
<line x1="570.50" y1="317.09" x2="637.00" y2="317.09" stroke="#3c3c3c" stroke-width="1.1" stroke-linecap="square"/>
<line x1="570.50" y1="345.41" x2="660.30" y2="345.41" stroke="#3c3c3c" stroke-width="1.1" stroke-linecap="square"/>
<line x1="570.50" y1="317.09" x2="570.50" y2="345.41" stroke="#3c3c3c" stroke-width="1.1" stroke-linecap="square"/>
<line x1="662.00" y1="364.30" x2="663.30" y2="364.30" stroke="#2a2a2a" stroke-width="1.35" stroke-linecap="square"/>
<line x1="662.00" y1="376.89" x2="663.30" y2="376.89" stroke="#2a2a2a" stroke-width="1.35" stroke-linecap="square"/>
<line x1="662.00" y1="364.30" x2="662.00" y2="376.89" stroke="#2a2a2a" stroke-width="1.35" stroke-linecap="square"/>
<line x1="662.00" y1="389.48" x2="663.30" y2="389.48" stroke="#2a2a2a" stroke-width="1.35" stroke-linecap="square"/>
<line x1="662.00" y1="402.07" x2="663.30" y2="402.07" stroke="#2a2a2a" stroke-width="1.35" stroke-linecap="square"/>
<line x1="662.00" y1="389.48" x2="662.00" y2="402.07" stroke="#2a2a2a" stroke-width="1.35" stroke-linecap="square"/>
<line x1="621.90" y1="370.60" x2="662.00" y2="370.60" stroke="#3c3c3c" stroke-width="1.1" stroke-linecap="square"/>
<line x1="621.90" y1="395.77" x2="662.00" y2="395.77" stroke="#3c3c3c" stroke-width="1.1" stroke-linecap="square"/>
<line x1="621.90" y1="370.60" x2="621.90" y2="395.77" stroke="#3c3c3c" stroke-width="1.1" stroke-linecap="square"/>
<line x1="568.50" y1="331.25" x2="570.50" y2="331.25" stroke="#3c3c3c" stroke-width="1.1" stroke-linecap="square"/>
<line x1="568.50" y1="383.19" x2="621.90" y2="383.19" stroke="#3c3c3c" stroke-width="1.1" stroke-linecap="square"/>
<line x1="568.50" y1="331.25" x2="568.50" y2="383.19" stroke="#3c3c3c" stroke-width="1.1" stroke-linecap="square"/>
<line x1="655.30" y1="414.66" x2="663.30" y2="414.66" stroke="#2a2a2a" stroke-width="1.35" stroke-linecap="square"/>
<line x1="655.30" y1="427.25" x2="663.30" y2="427.25" stroke="#2a2a2a" stroke-width="1.35" stroke-linecap="square"/>
<line x1="655.30" y1="414.66" x2="655.30" y2="427.25" stroke="#2a2a2a" stroke-width="1.35" stroke-linecap="square"/>
<line x1="651.50" y1="420.96" x2="655.30" y2="420.96" stroke="#2a2a2a" stroke-width="1.35" stroke-linecap="square"/>
<line x1="651.50" y1="439.84" x2="663.30" y2="439.84" stroke="#2a2a2a" stroke-width="1.35" stroke-linecap="square"/>
<line x1="651.50" y1="420.96" x2="651.50" y2="439.84" stroke="#2a2a2a" stroke-width="1.35" stroke-linecap="square"/>
<line x1="655.80" y1="452.43" x2="663.30" y2="452.43" stroke="#2a2a2a" stroke-width="1.35" stroke-linecap="square"/>
<line x1="655.80" y1="465.02" x2="663.30" y2="465.02" stroke="#2a2a2a" stroke-width="1.35" stroke-linecap="square"/>
<line x1="655.80" y1="452.43" x2="655.80" y2="465.02" stroke="#2a2a2a" stroke-width="1.35" stroke-linecap="square"/>
<line x1="637.50" y1="430.40" x2="651.50" y2="430.40" stroke="#2a2a2a" stroke-width="1.35" stroke-linecap="square"/>
<line x1="637.50" y1="458.73" x2="655.80" y2="458.73" stroke="#2a2a2a" stroke-width="1.35" stroke-linecap="square"/>
<line x1="637.50" y1="430.40" x2="637.50" y2="458.73" stroke="#2a2a2a" stroke-width="1.35" stroke-linecap="square"/>
<line x1="653.80" y1="477.61" x2="663.30" y2="477.61" stroke="#2a2a2a" stroke-width="1.35" stroke-linecap="square"/>
<line x1="653.80" y1="490.20" x2="663.30" y2="490.20" stroke="#2a2a2a" stroke-width="1.35" stroke-linecap="square"/>
<line x1="653.80" y1="477.61" x2="653.80" y2="490.20" stroke="#2a2a2a" stroke-width="1.35" stroke-linecap="square"/>
<line x1="645.70" y1="483.90" x2="653.80" y2="483.90" stroke="#2a2a2a" stroke-width="1.35" stroke-linecap="square"/>
<line x1="645.70" y1="502.79" x2="663.30" y2="502.79" stroke="#2a2a2a" stroke-width="1.35" stroke-linecap="square"/>
<line x1="645.70" y1="483.90" x2="645.70" y2="502.79" stroke="#2a2a2a" stroke-width="1.35" stroke-linecap="square"/>
<line x1="633.20" y1="444.56" x2="637.50" y2="444.56" stroke="#2a2a2a" stroke-width="1.35" stroke-linecap="square"/>
<line x1="633.20" y1="493.35" x2="645.70" y2="493.35" stroke="#2a2a2a" stroke-width="1.35" stroke-linecap="square"/>
<line x1="633.20" y1="444.56" x2="633.20" y2="493.35" stroke="#2a2a2a" stroke-width="1.35" stroke-linecap="square"/>
<line x1="499.80" y1="357.22" x2="568.50" y2="357.22" stroke="#3c3c3c" stroke-width="1.1" stroke-linecap="square"/>
<line x1="499.80" y1="468.95" x2="633.20" y2="468.95" stroke="#3c3c3c" stroke-width="1.1" stroke-linecap="square"/>
<line x1="499.80" y1="357.22" x2="499.80" y2="468.95" stroke="#3c3c3c" stroke-width="1.1" stroke-linecap="square"/>
<line x1="354.90" y1="219.91" x2="467.70" y2="219.91" stroke="#3c3c3c" stroke-width="1.1" stroke-linecap="square"/>
<line x1="354.90" y1="413.09" x2="499.80" y2="413.09" stroke="#3c3c3c" stroke-width="1.1" stroke-linecap="square"/>
<line x1="354.90" y1="219.91" x2="354.90" y2="413.09" stroke="#3c3c3c" stroke-width="1.1" stroke-linecap="square"/>
<text x="666.80" y="53.15" font-size="9.0" fill="#a6a6a6" text-anchor="start" font-weight="normal" font-family='"Liberation Sans", sans-serif' textLength="35.00" lengthAdjust="spacingAndGlyphs" stroke="#a6a6a6" stroke-width="0.25" >G shoots R5</text>
<text x="666.80" y="65.74" font-size="9.0" fill="#a6a6a6" text-anchor="start" font-weight="normal" font-family='"Liberation Sans", sans-serif' textLength="35.00" lengthAdjust="spacingAndGlyphs" stroke="#a6a6a6" stroke-width="0.25" >G shoots R3</text>
<text x="666.80" y="78.33" font-size="9.0" fill="#a6a6a6" text-anchor="start" font-weight="normal" font-family='"Liberation Sans", sans-serif' textLength="35.00" lengthAdjust="spacingAndGlyphs" stroke="#a6a6a6" stroke-width="0.25" >G shoots R4</text>
<text x="666.80" y="90.92" font-size="9.0" fill="#a6a6a6" text-anchor="start" font-weight="normal" font-family='"Liberation Sans", sans-serif' textLength="35.00" lengthAdjust="spacingAndGlyphs" stroke="#a6a6a6" stroke-width="0.25" >G shoots R9</text>
<text x="666.80" y="103.51" font-size="9.0" fill="#a6a6a6" text-anchor="start" font-weight="normal" font-family='"Liberation Sans", sans-serif' textLength="35.00" lengthAdjust="spacingAndGlyphs" stroke="#a6a6a6" stroke-width="0.25" >G shoots R1</text>
<text x="666.80" y="116.10" font-size="9.0" fill="#a6a6a6" text-anchor="start" font-weight="normal" font-family='"Liberation Sans", sans-serif' textLength="35.00" lengthAdjust="spacingAndGlyphs" stroke="#a6a6a6" stroke-width="0.25" >G shoots R8</text>
<text x="666.80" y="128.69" font-size="9.0" fill="#a6a6a6" text-anchor="start" font-weight="normal" font-family='"Liberation Sans", sans-serif' textLength="35.00" lengthAdjust="spacingAndGlyphs" stroke="#a6a6a6" stroke-width="0.25" >G shoots R7</text>
<text x="666.80" y="141.28" font-size="9.0" fill="#a6a6a6" text-anchor="start" font-weight="normal" font-family='"Liberation Sans", sans-serif' textLength="35.00" lengthAdjust="spacingAndGlyphs" stroke="#a6a6a6" stroke-width="0.25" >G shoots R6</text>
<text x="666.80" y="153.87" font-size="9.0" fill="#a6a6a6" text-anchor="start" font-weight="normal" font-family='"Liberation Sans", sans-serif' textLength="35.00" lengthAdjust="spacingAndGlyphs" stroke="#a6a6a6" stroke-width="0.25" >G shoots R2</text>
<text x="666.80" y="166.46" font-size="9.0" fill="#3a3a3a" text-anchor="start" font-weight="normal" font-family='"Liberation Sans", sans-serif' textLength="34.80" lengthAdjust="spacingAndGlyphs" stroke="#3a3a3a" stroke-width="0.25" >D shoots R3</text>
<text x="666.80" y="179.05" font-size="9.0" fill="#3a3a3a" text-anchor="start" font-weight="normal" font-family='"Liberation Sans", sans-serif' textLength="34.80" lengthAdjust="spacingAndGlyphs" stroke="#3a3a3a" stroke-width="0.25" >D shoots R2</text>
<text x="666.80" y="191.64" font-size="9.0" fill="#3a3a3a" text-anchor="start" font-weight="normal" font-family='"Liberation Sans", sans-serif' textLength="34.80" lengthAdjust="spacingAndGlyphs" stroke="#3a3a3a" stroke-width="0.25" >D shoots R1</text>
<text x="666.80" y="204.23" font-size="9.0" fill="#3a3a3a" text-anchor="start" font-weight="normal" font-family='"Liberation Sans", sans-serif' textLength="34.80" lengthAdjust="spacingAndGlyphs" stroke="#3a3a3a" stroke-width="0.25" >D shoots R6</text>
<text x="666.80" y="216.82" font-size="9.0" fill="#3a3a3a" text-anchor="start" font-weight="normal" font-family='"Liberation Sans", sans-serif' textLength="34.80" lengthAdjust="spacingAndGlyphs" stroke="#3a3a3a" stroke-width="0.25" >D shoots R7</text>
<text x="666.80" y="229.41" font-size="9.0" fill="#3a3a3a" text-anchor="start" font-weight="normal" font-family='"Liberation Sans", sans-serif' textLength="34.80" lengthAdjust="spacingAndGlyphs" stroke="#3a3a3a" stroke-width="0.25" >D shoots R5</text>
<text x="666.80" y="242.00" font-size="9.0" fill="#3a3a3a" text-anchor="start" font-weight="normal" font-family='"Liberation Sans", sans-serif' textLength="34.80" lengthAdjust="spacingAndGlyphs" stroke="#3a3a3a" stroke-width="0.25" >D shoots R4</text>
<text x="666.80" y="254.59" font-size="9.0" fill="#4e4e4e" text-anchor="start" font-weight="normal" font-family='"Liberation Sans", sans-serif' textLength="36.00" lengthAdjust="spacingAndGlyphs" stroke="#4e4e4e" stroke-width="0.25" >W shoots R5</text>
<text x="666.80" y="267.18" font-size="9.0" fill="#4e4e4e" text-anchor="start" font-weight="normal" font-family='"Liberation Sans", sans-serif' textLength="36.00" lengthAdjust="spacingAndGlyphs" stroke="#4e4e4e" stroke-width="0.25" >W shoots R2</text>
<text x="666.80" y="279.77" font-size="9.0" fill="#4e4e4e" text-anchor="start" font-weight="normal" font-family='"Liberation Sans", sans-serif' textLength="36.00" lengthAdjust="spacingAndGlyphs" stroke="#4e4e4e" stroke-width="0.25" >W shoots R4</text>
<text x="666.80" y="292.36" font-size="9.0" fill="#4e4e4e" text-anchor="start" font-weight="normal" font-family='"Liberation Sans", sans-serif' textLength="36.00" lengthAdjust="spacingAndGlyphs" stroke="#4e4e4e" stroke-width="0.25" >W shoots R6</text>
<text x="666.80" y="304.95" font-size="9.0" fill="#d4d4d4" text-anchor="start" font-weight="normal" font-family='"Liberation Sans", sans-serif' textLength="38.00" lengthAdjust="spacingAndGlyphs" stroke="#d4d4d4" stroke-width="0.25" >SE shoots R6</text>
<text x="666.80" y="317.54" font-size="9.0" fill="#d4d4d4" text-anchor="start" font-weight="normal" font-family='"Liberation Sans", sans-serif' textLength="38.00" lengthAdjust="spacingAndGlyphs" stroke="#d4d4d4" stroke-width="0.25" >SE shoots R3</text>
<text x="666.80" y="330.13" font-size="9.0" fill="#d4d4d4" text-anchor="start" font-weight="normal" font-family='"Liberation Sans", sans-serif' textLength="38.00" lengthAdjust="spacingAndGlyphs" stroke="#d4d4d4" stroke-width="0.25" >SE shoots R5</text>
<text x="666.80" y="342.72" font-size="9.0" fill="#4e4e4e" text-anchor="start" font-weight="normal" font-family='"Liberation Sans", sans-serif' textLength="36.00" lengthAdjust="spacingAndGlyphs" stroke="#4e4e4e" stroke-width="0.25" >W shoots R3</text>
<text x="666.80" y="355.31" font-size="9.0" fill="#4e4e4e" text-anchor="start" font-weight="normal" font-family='"Liberation Sans", sans-serif' textLength="36.00" lengthAdjust="spacingAndGlyphs" stroke="#4e4e4e" stroke-width="0.25" >W shoots R1</text>
<text x="666.80" y="367.90" font-size="9.0" fill="#d4d4d4" text-anchor="start" font-weight="normal" font-family='"Liberation Sans", sans-serif' textLength="38.00" lengthAdjust="spacingAndGlyphs" stroke="#d4d4d4" stroke-width="0.25" >SE shoots R7</text>
<text x="666.80" y="380.49" font-size="9.0" fill="#d4d4d4" text-anchor="start" font-weight="normal" font-family='"Liberation Sans", sans-serif' textLength="38.00" lengthAdjust="spacingAndGlyphs" stroke="#d4d4d4" stroke-width="0.25" >SE shoots R2</text>
<text x="666.80" y="393.08" font-size="9.0" fill="#d4d4d4" text-anchor="start" font-weight="normal" font-family='"Liberation Sans", sans-serif' textLength="38.00" lengthAdjust="spacingAndGlyphs" stroke="#d4d4d4" stroke-width="0.25" >SE shoots R4</text>
<text x="666.80" y="405.67" font-size="9.0" fill="#d4d4d4" text-anchor="start" font-weight="normal" font-family='"Liberation Sans", sans-serif' textLength="38.00" lengthAdjust="spacingAndGlyphs" stroke="#d4d4d4" stroke-width="0.25" >SE shoots R1</text>
<text x="666.80" y="418.26" font-size="9.0" fill="#2a2a2a" text-anchor="start" font-weight="normal" font-family='"Liberation Sans", sans-serif' textLength="36.20" lengthAdjust="spacingAndGlyphs" stroke="#2a2a2a" stroke-width="0.25" >ID shoots R5</text>
<text x="666.80" y="430.85" font-size="9.0" fill="#2a2a2a" text-anchor="start" font-weight="normal" font-family='"Liberation Sans", sans-serif' textLength="36.20" lengthAdjust="spacingAndGlyphs" stroke="#2a2a2a" stroke-width="0.25" >ID shoots R2</text>
<text x="666.80" y="443.44" font-size="9.0" fill="#2a2a2a" text-anchor="start" font-weight="normal" font-family='"Liberation Sans", sans-serif' textLength="36.20" lengthAdjust="spacingAndGlyphs" stroke="#2a2a2a" stroke-width="0.25" >ID shoots R3</text>
<text x="666.80" y="456.03" font-size="9.0" fill="#2a2a2a" text-anchor="start" font-weight="normal" font-family='"Liberation Sans", sans-serif' textLength="36.20" lengthAdjust="spacingAndGlyphs" stroke="#2a2a2a" stroke-width="0.25" >ID shoots R6</text>
<text x="666.80" y="468.62" font-size="9.0" fill="#2a2a2a" text-anchor="start" font-weight="normal" font-family='"Liberation Sans", sans-serif' textLength="36.20" lengthAdjust="spacingAndGlyphs" stroke="#2a2a2a" stroke-width="0.25" >ID shoots R1</text>
<text x="666.80" y="481.21" font-size="9.0" fill="#2a2a2a" text-anchor="start" font-weight="normal" font-family='"Liberation Sans", sans-serif' textLength="36.20" lengthAdjust="spacingAndGlyphs" stroke="#2a2a2a" stroke-width="0.25" >ID shoots R7</text>
<text x="666.80" y="493.80" font-size="9.0" fill="#2a2a2a" text-anchor="start" font-weight="normal" font-family='"Liberation Sans", sans-serif' textLength="36.20" lengthAdjust="spacingAndGlyphs" stroke="#2a2a2a" stroke-width="0.25" >ID shoots R4</text>
<text x="666.80" y="506.39" font-size="9.0" fill="#2a2a2a" text-anchor="start" font-weight="normal" font-family='"Liberation Sans", sans-serif' textLength="36.20" lengthAdjust="spacingAndGlyphs" stroke="#2a2a2a" stroke-width="0.25" >ID shoots R8</text>
<line x1="342.7" y1="527.4" x2="663.3" y2="527.4" stroke="#333" stroke-width="1"/>
<line x1="663.3" y1="527.4" x2="663.3" y2="532.8" stroke="#333" stroke-width="1"/>
<text x="663.30" y="547.30" font-size="8.0" fill="#333" text-anchor="middle" font-weight="normal" font-family='"Liberation Sans", sans-serif' textLength="9.00" lengthAdjust="spacingAndGlyphs" stroke="#333" stroke-width="0.15" >0.0</text>
<line x1="583.1" y1="527.4" x2="583.1" y2="532.8" stroke="#333" stroke-width="1"/>
<text x="583.15" y="547.30" font-size="8.0" fill="#333" text-anchor="middle" font-weight="normal" font-family='"Liberation Sans", sans-serif' textLength="9.00" lengthAdjust="spacingAndGlyphs" stroke="#333" stroke-width="0.15" >0.2</text>
<line x1="503.0" y1="527.4" x2="503.0" y2="532.8" stroke="#333" stroke-width="1"/>
<text x="503.00" y="547.30" font-size="8.0" fill="#333" text-anchor="middle" font-weight="normal" font-family='"Liberation Sans", sans-serif' textLength="9.00" lengthAdjust="spacingAndGlyphs" stroke="#333" stroke-width="0.15" >0.4</text>
<line x1="422.8" y1="527.4" x2="422.8" y2="532.8" stroke="#333" stroke-width="1"/>
<text x="422.85" y="547.30" font-size="8.0" fill="#333" text-anchor="middle" font-weight="normal" font-family='"Liberation Sans", sans-serif' textLength="9.00" lengthAdjust="spacingAndGlyphs" stroke="#333" stroke-width="0.15" >0.6</text>
<line x1="342.7" y1="527.4" x2="342.7" y2="532.8" stroke="#333" stroke-width="1"/>
<text x="342.70" y="547.30" font-size="8.0" fill="#333" text-anchor="middle" font-weight="normal" font-family='"Liberation Sans", sans-serif' textLength="9.00" lengthAdjust="spacingAndGlyphs" stroke="#333" stroke-width="0.15" >0.8</text>
</g>
<g id="frame">
<rect x="0" y="0" width="738" height="1.4" fill="#111"/>
<rect x="0" y="0" width="1.9" height="573" fill="#222"/>
<rect x="326.2" y="0" width="1.9" height="573" fill="#222"/>
<rect x="0" y="275.9" width="327" height="1.9" fill="#333"/>
<rect x="328" y="1.3" width="410" height="1.1" fill="#555"/>
<rect x="328" y="2.4" width="410" height="1.3" fill="#8a8a8a"/>
<rect x="735.0" y="2" width="1.9" height="570" fill="#7c7c7c"/>
<rect x="736.7" y="0" width="1.3" height="573" fill="#111"/>
<rect x="328" y="568.8" width="410" height="2.6" fill="#8a8a8a"/>
<rect x="0" y="571.5" width="738" height="1.5" fill="#111"/>
<text x="14.20" y="23.10" font-size="18" fill="#000" text-anchor="start" font-weight="bold" font-family='"Liberation Sans", sans-serif' >a</text>
<text x="14.20" y="296.80" font-size="18" fill="#000" text-anchor="start" font-weight="bold" font-family='"Liberation Sans", sans-serif' >b</text>
<text x="341.60" y="23.60" font-size="18" fill="#000" text-anchor="start" font-weight="bold" font-family='"Liberation Sans", sans-serif' >c</text>
</g>
</svg>
</body></html>
